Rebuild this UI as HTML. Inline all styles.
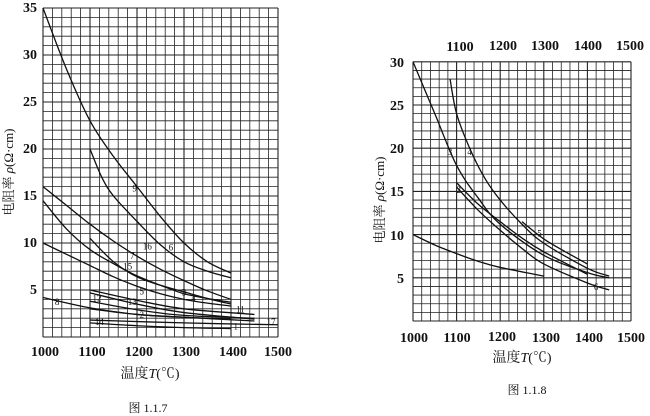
<!DOCTYPE html>
<html><head><meta charset="utf-8"><style>
html,body{margin:0;padding:0;background:#fff;}
svg{display:block;}
text{font-family:"Liberation Serif","Noto Serif CJK SC",serif;fill:#111;}
.t{font-size:14px;font-weight:bold;}
</style></head><body>
<svg id="s" width="650" height="416" viewBox="0 0 650 416" xmlns="http://www.w3.org/2000/svg">
<g id="g"></g>
<g class="t" text-anchor="middle">
<text x="45" y="356">1000</text><text x="92" y="356">1100</text><text x="139" y="356">1200</text><text x="186" y="356">1300</text><text x="233" y="356">1400</text><text x="278" y="356">1500</text>
</g>
<g class="t" text-anchor="end">
<text x="37" y="12">35</text><text x="37" y="59">30</text><text x="37" y="106">25</text><text x="37" y="153">20</text><text x="37" y="200">15</text><text x="37" y="247">10</text><text x="37" y="294">5</text>
</g>
<text x="150" y="378" text-anchor="middle" font-size="14">温度<tspan font-style="italic">T</tspan>(℃)</text>
<text transform="translate(13,172) rotate(-90)" text-anchor="middle" font-size="13">电阻率 <tspan font-style="italic">ρ</tspan>(Ω·cm)</text>
<text x="148" y="412" text-anchor="middle" font-size="12">图 1.1.7</text>
<g class="t" text-anchor="middle">
<text x="460" y="51">1100</text><text x="503" y="50">1200</text><text x="545" y="50">1300</text><text x="588" y="50">1400</text><text x="630" y="50">1500</text>
<text x="414" y="342">1000</text><text x="457" y="342">1100</text><text x="502" y="341">1200</text><text x="546" y="342">1300</text><text x="589" y="342">1400</text><text x="631" y="342">1500</text>
</g>
<g class="t" text-anchor="end">
<text x="404" y="67">30</text><text x="404" y="110">25</text><text x="404" y="153">20</text><text x="404" y="196">15</text><text x="404" y="240">10</text><text x="404" y="283">5</text>
</g>
<text x="522" y="362" text-anchor="middle" font-size="14">温度<tspan font-style="italic">T</tspan>(℃)</text>
<text transform="translate(384,200) rotate(-90)" text-anchor="middle" font-size="13">电阻率 <tspan font-style="italic">ρ</tspan>(Ω·cm)</text>
<text x="527" y="394" text-anchor="middle" font-size="12">图 1.1.8</text>
</svg>
<script>
var g=document.getElementById('g'),NS='http://www.w3.org/2000/svg';
function el(n,a){var e=document.createElementNS(NS,n);for(var k in a)e.setAttribute(k,a[k]);g.appendChild(e);return e;}
function chart(x0,x1,y0,ppu,ymax,cols,curves,labels){
 var dx=(x1-x0)/cols; var ytop=y0-ymax*ppu;
 for(var i=0;i<=cols;i++){var x=x0+i*dx;el('line',{x1:x,y1:ytop,x2:x,y2:y0,stroke:'#222','stroke-width':(i%5==0?1.1:0.8)});}
 for(var j=0;j<=ymax;j++){var y=y0-j*ppu;el('line',{x1:x0,y1:y,x2:x1,y2:y,stroke:'#222','stroke-width':(j%5==0?1.1:0.8)});}
 function P(p){return [x0+(p[0]-1000)/500*(x1-x0), y0-p[1]*ppu];}
 curves.forEach(function(c){var pts=c.map(P);var d='M'+pts[0][0]+' '+pts[0][1];
  for(var i=0;i<pts.length-1;i++){var p0=pts[i-1]||pts[i],p1=pts[i],p2=pts[i+1],p3=pts[i+2]||p2;
   d+=' C'+(p1[0]+(p2[0]-p0[0])/6)+' '+(p1[1]+(p2[1]-p0[1])/6)+' '+(p2[0]-(p3[0]-p1[0])/6)+' '+(p2[1]-(p3[1]-p1[1])/6)+' '+p2[0]+' '+p2[1];}
  el('path',{d:d,fill:'none',stroke:'#111','stroke-width':1.3});});
 labels.forEach(function(l){var p=P([l[0],l[1]]);var t=el('text',{x:p[0],y:p[1],'font-size':9,'text-anchor':'middle'});t.textContent=l[2];});
}
chart(43,278,337,9.4,35,25,[
 [[1000,35],[1050,28.5],[1100,23],[1150,19.2],[1200,16],[1250,12.8],[1300,10],[1350,8],[1400,6.8]],
 [[1100,20],[1125,17],[1150,15],[1200,12.3],[1250,9.8],[1300,8],[1350,7],[1400,6.3]],
 [[1000,16],[1050,14],[1100,12],[1150,10.2],[1200,8.6],[1250,7.2],[1300,6],[1350,4.9],[1400,4]],
 [[1000,14.5],[1050,11.5],[1100,9.3],[1150,7.8],[1200,6.5],[1250,5.5],[1300,4.6],[1350,4.1],[1400,3.7]],
 [[1100,10.5],[1150,8],[1200,6.4],[1250,5.5],[1300,4.8],[1350,4.1],[1400,3.5]],
 [[1000,10],[1050,8.8],[1100,7.6],[1150,6.4],[1200,5.4],[1250,4.6],[1300,4.0],[1350,3.6],[1400,3.3]],
 [[1000,4.2],[1100,3.1],[1200,2.4],[1300,2.1],[1400,1.9]],
 [[1100,5],[1200,3.9],[1300,3.0],[1450,2.4]],
 [[1100,4.7],[1200,3.5],[1300,2.6],[1450,1.9]],
 [[1100,3.8],[1200,2.9],[1300,2.3],[1450,2.0]],
 [[1100,3],[1200,2.4],[1300,2.1],[1450,1.7]],
 [[1100,1.8],[1300,1.5],[1500,1.3]],
 [[1100,1.5],[1200,1.2],[1300,1.0],[1400,0.9]]
],[[1195,15.5,'9'],[1222,9.3,'16'],[1272,9.2,'6'],[1190,8.3,'7'],[1180,7.2,'15'],[1210,4.5,'5'],[1300,4.4,'3'],[1320,3.8,'4'],[1030,3.4,'8'],[1115,3.8,'12'],[1190,3.4,'13'],[1210,2.0,'2'],[1420,2.6,'11'],[1120,1.3,'14'],[1410,0.8,'1'],[1485,1.3,'17']]);
chart(413,631,321,8.64,30,25,[
 [[1000,30],[1050,24],[1100,18],[1150,14.2],[1200,11.2],[1300,7.6],[1400,5.6],[1450,5]],
 [[1085,28],[1100,24],[1130,20],[1165,16.5],[1200,14],[1250,11.2],[1300,9],[1400,6.1],[1450,5.2]],
 [[1100,16],[1150,13.5],[1200,11.5],[1250,9.6],[1300,8],[1400,5.4]],
 [[1100,15.5],[1150,12.8],[1200,10.5],[1250,8.4],[1300,6.6],[1400,4.4],[1450,3.6]],
 [[1250,11.5],[1300,9.5],[1350,8],[1400,6.6]],
 [[1000,10],[1050,8.8],[1100,7.8],[1150,6.9],[1200,6.2],[1300,5.2]]
],[[1085,19.2,'3'],[1130,19.2,'4'],[1105,14.8,'2'],[1290,9.8,'5'],[1420,3.6,'6']]);
</script>
</body></html>
